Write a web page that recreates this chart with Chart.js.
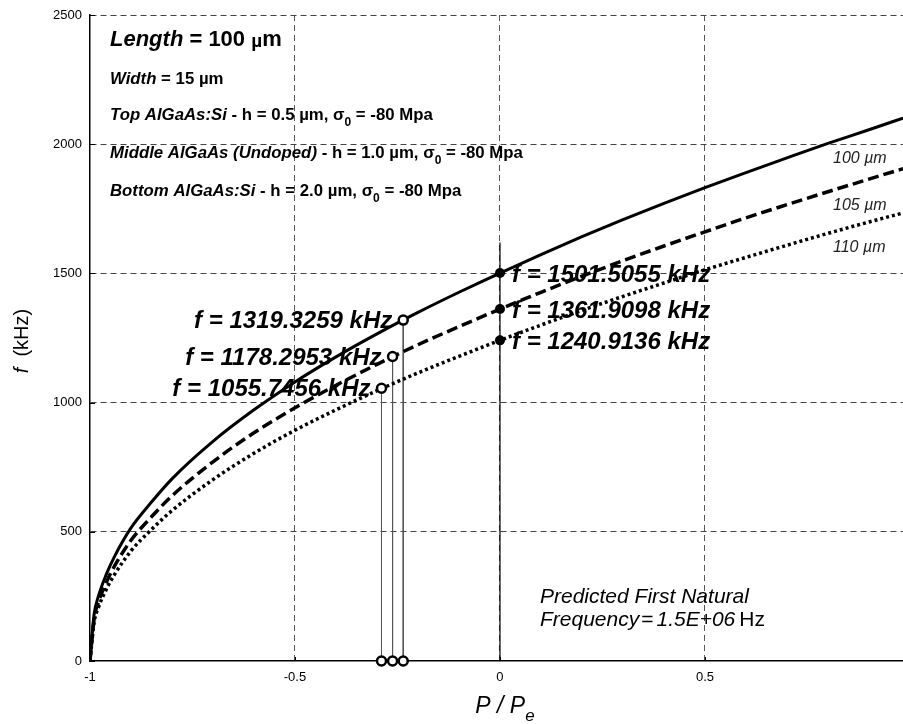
<!DOCTYPE html>
<html>
<head>
<meta charset="utf-8">
<script src="https://cdn.jsdelivr.net/npm/chart.js@4.4.1/dist/chart.umd.min.js"></script>
<style>
  html, body { margin: 0; padding: 0; background: #fff; }
  #wrap { width: 903px; height: 724px; position: relative; }
</style>
</head>
<body>
<div id="wrap"><canvas id="myChart" width="903" height="724"></canvas></div>
<script>
'use strict'

// P / Pe values where the curves were read
const pRatio = [-1, -0.99, -0.98, -0.96, -0.94, -0.9, -0.85, -0.8, -0.7, -0.6, -0.5, -0.4, -0.3, -0.2, -0.1,
    0, 0.1, 0.2, 0.3, 0.4, 0.5, 0.6, 0.7, 0.8, 0.9, 0.983]

// f (kHz) for the three lengths
const f100 = [0, 180, 248, 336, 405, 515, 615, 705, 850, 972, 1080, 1177, 1266, 1349, 1427,
    1501.5, 1573, 1642, 1708, 1771, 1832, 1890, 1947, 2003, 2056, 2101]
const f105 = [0, 163, 225, 305, 368, 467, 558, 639, 771, 883, 980, 1067, 1148, 1224, 1294,
    1362, 1427, 1489, 1549, 1606, 1661, 1715, 1766, 1816, 1865, 1905]
const f110 = [0, 149, 205, 278, 335, 426, 509, 582, 702, 804, 893, 972, 1046, 1115, 1179,
    1241, 1300, 1357, 1411, 1463, 1514, 1562, 1609, 1655, 1699, 1734]

const curveNames = ['100 \u00b5m', '105 \u00b5m', '110 \u00b5m']

// marked points
const markX = [-0.236, -0.262, -0.289]
const markF = [1319.3259, 1178.2953, 1055.7456]
const peakF = [1501.5055, 1361.9098, 1240.9136]
const zeroLineTop = 1620

const xTicks = [-1, -0.5, 0, 0.5]
const yTicks = [0, 500, 1000, 1500, 2000, 2500]

const FONT = '"Liberation Sans", Arial, sans-serif'

const toPoints = function(xs, ys) {
    return xs.map((x, i) => ({ x: x, y: ys[i] }))
}

// draws text made of several runs with own font / baseline shift
const drawRuns = function(ctx, x, y, runs, align) {
    let total = 0
    runs.forEach((r) => {
        if (r.gap) { total += r.gap; return }
        ctx.font = r.f + ' ' + FONT
        total += ctx.measureText(r.t).width
    })
    let cx = x
    if (align === 'right') cx = x - total
    if (align === 'center') cx = x - total / 2
    runs.forEach((r) => {
        if (r.gap) { cx += r.gap; return }
        ctx.font = r.f + ' ' + FONT
        ctx.fillText(r.t, cx, y + (r.dy || 0))
        cx += ctx.measureText(r.t).width
    })
}

const textPlugin = {
    id: 'texts',
    afterDraw(chart) {
        const ctx = chart.ctx
        const xs = chart.scales.x
        const ys = chart.scales.y
        const area = chart.chartArea
        ctx.save()
        ctx.fillStyle = '#000'
        ctx.textBaseline = 'alphabetic'
        ctx.textAlign = 'left'

        // inward ticks
        ctx.strokeStyle = '#000'
        ctx.lineWidth = 1
        ctx.beginPath()
        yTicks.forEach((v) => {
            const py = Math.round(ys.getPixelForValue(v)) + 0.5
            ctx.moveTo(area.left, py)
            ctx.lineTo(area.left + 5, py)
        })
        xTicks.forEach((v) => {
            const px = Math.round(xs.getPixelForValue(v)) + 0.5
            ctx.moveTo(px, area.bottom)
            ctx.lineTo(px, area.bottom - 4)
        })
        ctx.stroke()

        // header block
        const lx = area.left + 20
        drawRuns(ctx, lx, 46, [
            { t: 'Length', f: 'italic bold 22px' },
            { t: ' = 100 ', f: 'bold 22px' },
            { t: '\u00b5', f: 'bold 19px', dy: 1 },
            { t: 'm', f: 'bold 22px' }
        ])
        const small = 'bold 16.8px'
        drawRuns(ctx, lx, 84, [
            { t: 'Width', f: 'italic ' + small },
            { t: ' = 15 \u00b5m', f: small }
        ])
        const layers = [['Top AlGaAs:Si', '0.5', 120], ['Middle AlGaAs (Undoped)', '1.0', 158], ['Bottom AlGaAs:Si', '2.0', 196]]
        layers.forEach((l) => {
            drawRuns(ctx, lx, l[2], [
                { t: l[0], f: 'italic ' + small },
                { t: ' - h = ' + l[1] + ' \u00b5m, \u03c3', f: small },
                { t: '0', f: 'bold 12px', dy: 6 },
                { t: ' = -80 Mpa', f: small }
            ])
        })

        // curve names at right
        ctx.fillStyle = '#222'
        ctx.font = 'italic 16px ' + FONT
        ctx.fillText(curveNames[0], 833, 163)
        ctx.fillText(curveNames[1], 833, 210)
        ctx.fillText(curveNames[2], 833, 252)
        ctx.fillStyle = '#000'

        // value labels
        const big = 'italic bold 24px'
        peakF.forEach((v) => {
            const px = xs.getPixelForValue(0)
            const py = ys.getPixelForValue(v)
            drawRuns(ctx, px + 12, py + 9, [{ t: 'f = ' + v.toFixed(4) + ' kHz', f: big }])
        })
        markF.forEach((v, i) => {
            const px = xs.getPixelForValue(markX[i])
            const py = ys.getPixelForValue(v)
            drawRuns(ctx, px - 11, py + 8, [{ t: 'f = ' + v.toFixed(4) + ' kHz', f: big }], 'right')
        })

        // note bottom right
        drawRuns(ctx, 540, 603, [{ t: 'Predicted First Natural', f: 'italic 21px' }])
        drawRuns(ctx, 540, 626, [
            { t: 'Frequency', f: 'italic 21px' },
            { gap: 2 },
            { t: '=', f: '21px' },
            { gap: 3 },
            { t: '1.5E+06', f: 'italic 21px' },
            { gap: 4 },
            { t: 'Hz', f: '21px' }
        ])

        // axis titles
        drawRuns(ctx, 505, 713, [
            { t: 'P / P', f: 'italic 23px' },
            { t: 'e', f: 'italic 17px', dy: 8 }
        ], 'center')
        ctx.translate(28, 341)
        ctx.rotate(-Math.PI / 2)
        drawRuns(ctx, 0, 0, [
            { t: 'f', f: 'italic 20px' },
            { t: '  (kHz)', f: '20px' }
        ], 'center')
        ctx.restore()
    }
}

const ctx = document.getElementById('myChart')

const curveStyle = function(data, dash, width) {
    return {
        data: data,
        borderColor: '#000',
        borderWidth: width,
        borderDash: dash,
        borderCapStyle: 'butt',
        pointRadius: 0,
        showLine: true,
        fill: false,
        cubicInterpolationMode: 'monotone',
        order: 2
    }
}

const datasets = []

// open circles on the curves and on the axis
datasets.push({
    data: markX.map((x, i) => ({ x: x, y: markF[i] })).concat(markX.map((x) => ({ x: x, y: 0 }))),
    showLine: false,
    pointRadius: 4.5,
    pointBorderWidth: 2.5,
    pointBorderColor: '#000',
    pointBackgroundColor: '#fff',
    clip: false,
    order: 0
})
// filled circles at P = 0
datasets.push({
    data: peakF.map((v) => ({ x: 0, y: v })),
    showLine: false,
    pointRadius: 5,
    pointBorderWidth: 0,
    pointBackgroundColor: '#000',
    order: 0
})

datasets.push(curveStyle(toPoints(pRatio, f100), [], 3))
datasets.push(curveStyle(toPoints(pRatio, f105), [11, 5], 3.5))
datasets.push(curveStyle(toPoints(pRatio, f110), [3, 3], 3.5))

// drop lines
markX.forEach((x, i) => {
    datasets.push({
        data: [{ x: x, y: markF[i] }, { x: x, y: 0 }],
        showLine: true,
        borderColor: '#555',
        borderWidth: 1,
        pointRadius: 0,
        order: 3
    })
})
datasets.push({
    data: [{ x: 0, y: 0 }, { x: 0, y: zeroLineTop }],
    showLine: true,
    borderColor: '#000',
    borderWidth: 1.2,
    pointRadius: 0,
    order: 3
})

new Chart(ctx, {
    type: 'scatter',
    data: { datasets: datasets },
    plugins: [textPlugin],
    options: {
        responsive: false,
        animation: false,
        events: [],
        layout: { autoPadding: false, padding: { top: 15, left: 0, right: 0, bottom: 0 } },
        plugins: {
            legend: { display: false },
            tooltip: { enabled: false }
        },
        scales: {
            x: {
                type: 'linear',
                min: -1,
                max: 0.983,
                afterBuildTicks: (scale) => {
                    scale.ticks = xTicks.map((v) => ({ value: v }))
                },
                afterFit: (scale) => {
                    scale.height = 63
                    scale.paddingLeft = 0
                    scale.paddingRight = 0
                },
                ticks: {
                    color: '#000',
                    font: { family: FONT, size: 13 },
                    padding: 9,
                    maxRotation: 0,
                    callback: (v) => String(v)
                },
                grid: {
                    color: (c) => (c.tick && c.tick.value === -1 ? 'rgba(0,0,0,0)' : '#555'),
                    lineWidth: 1,
                    drawTicks: false
                },
                border: { display: true, color: '#000', width: 1.5, dash: [6, 4] }
            },
            y: {
                type: 'linear',
                min: 0,
                max: 2500,
                afterBuildTicks: (scale) => {
                    scale.ticks = yTicks.map((v) => ({ value: v }))
                },
                afterFit: (scale) => {
                    scale.width = 90
                    scale.paddingTop = 0
                    scale.paddingBottom = 0
                },
                ticks: {
                    color: '#000',
                    font: { family: FONT, size: 13 },
                    padding: 8,
                    callback: (v) => String(v)
                },
                grid: {
                    color: (c) => (c.tick && c.tick.value === 0 ? 'rgba(0,0,0,0)' : '#444'),
                    lineWidth: 1,
                    drawTicks: false
                },
                border: { display: true, color: '#000', width: 1.5, dash: [6, 4] }
            }
        }
    }
})
</script>
</body>
</html>
